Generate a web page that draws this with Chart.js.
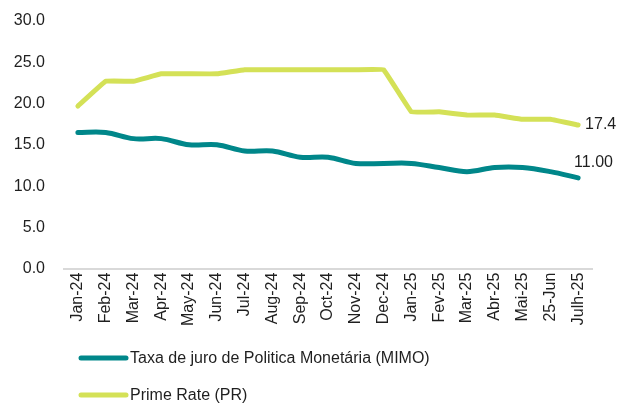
<!DOCTYPE html>
<html>
<head>
<meta charset="utf-8">
<script src="https://cdn.jsdelivr.net/npm/chart.js@4"></script>
<style>
  html, body { margin: 0; padding: 0; background: #fff; }
  #wrap { width: 621px; height: 403px; position: relative; }
</style>
</head>
<body>
<div id="wrap"><canvas id="chart"></canvas></div>
<script>
// --- data ---
const months = ['Jan-24', 'Feb-24', 'Mar-24', 'Apr-24', 'May-24', 'Jun-24', 'Jul-24', 'Aug-24', 'Sep-24',
    'Oct-24', 'Nov-24', 'Dec-24', 'Jan-25', 'Fev-25', 'Mar-25', 'Abr-25', 'Mai-25', '25-Jun', 'Julh-25'];
const mimo = [16.5, 16.5, 15.75, 15.75, 15.0, 15.0, 14.25, 14.25, 13.5, 13.5, 12.75, 12.75, 12.75, 12.25, 11.75, 12.25, 12.25, 11.75, 11.0];
const primeRate = [19.7, 22.7, 22.7, 23.6, 23.6, 23.6, 24.1, 24.1, 24.1, 24.1, 24.1, 24.1, 19.0, 19.0, 18.6, 18.6, 18.1, 18.1, 17.4];
const yTicks = [0, 5, 10, 15, 20, 25, 30];
const lastLabels = ['11.00', '17.4'];

const teal = '#00878A';
const lime = '#D4E157';
const textColor = '#1f1f1f';
const fontFamily = "'Liberation Sans', Arial, sans-serif";

// label next to the last point of each line
const endLabels = {
    id: 'endLabels',
    afterDatasetsDraw(chart) {
        const ctx = chart.ctx;
        ctx.save();
        ctx.font = `16px ${fontFamily}`;
        ctx.fillStyle = textColor;
        ctx.textBaseline = 'middle';
        ctx.textAlign = 'left';
        chart.data.datasets.forEach((ds, i) => {
            const pts = chart.getDatasetMeta(i).data;
            const p = pts[pts.length - 1];
            if (i === 0) {
                ctx.fillText(lastLabels[i], p.x - 4, p.y - 15);
            } else {
                ctx.fillText(lastLabels[i], p.x + 7, p.y);
            }
        });
        ctx.restore();
    }
};

// stacked legend under the axis
const stackedLegend = {
    id: 'stackedLegend',
    afterDraw(chart) {
        const ctx = chart.ctx;
        const x0 = chart.chartArea.left + 17;
        const rows = [358, 395];
        ctx.save();
        ctx.font = `16px ${fontFamily}`;
        ctx.fillStyle = textColor;
        ctx.textBaseline = 'middle';
        ctx.textAlign = 'left';
        chart.data.datasets.forEach((ds, i) => {
            const y = rows[i];
            ctx.strokeStyle = ds.borderColor;
            ctx.lineWidth = 5;
            ctx.lineCap = 'round';
            ctx.beginPath();
            ctx.moveTo(x0, y);
            ctx.lineTo(x0 + 45, y);
            ctx.stroke();
            ctx.fillText(ds.label, x0 + 49, y + 1);
        });
        ctx.restore();
    }
};

new Chart(document.getElementById('chart'), {
    type: 'line',
    data: {
        labels: months,
        datasets: [
            {
                label: 'Taxa de juro de Politica Monetária (MIMO)',
                data: mimo,
                borderColor: teal,
                borderWidth: 5,
                pointRadius: 0,
                tension: 0.35,
                borderCapStyle: 'round',
            },
            {
                label: 'Prime Rate (PR)',
                data: primeRate,
                borderColor: lime,
                borderWidth: 5,
                pointRadius: 0,
                tension: 0.05,
                borderCapStyle: 'round',
            }
        ]
    },
    options: {
        responsive: true,
        maintainAspectRatio: false,
        animation: false,
        layout: { padding: { top: 21, right: 29, bottom: 73, left: 0 } },
        plugins: {
            legend: { display: false },
            tooltip: { enabled: false },
        },
        scales: {
            x: {
                offset: true,
                grid: { display: false, drawTicks: false },
                border: { color: '#d9d9d9', width: 2 },
                ticks: {
                    color: textColor,
                    font: { family: fontFamily, size: 16 },
                    minRotation: 90,
                    maxRotation: 90,
                    autoSkip: false,
                    padding: 4,
                }
            },
            y: {
                min: 0,
                max: 30,
                afterBuildTicks: axis => { axis.ticks = yTicks.map(v => ({ value: v })); },
                afterFit: axis => { axis.width = 64; axis.paddingTop = 0; },
                grid: { display: false, drawTicks: false },
                border: { display: false },
                ticks: {
                    color: textColor,
                    font: { family: fontFamily, size: 16 },
                    padding: 19,
                    callback: v => Number(v).toFixed(1),
                }
            }
        }
    },
    plugins: [endLabels, stackedLegend]
});
</script>
</body>
</html>
